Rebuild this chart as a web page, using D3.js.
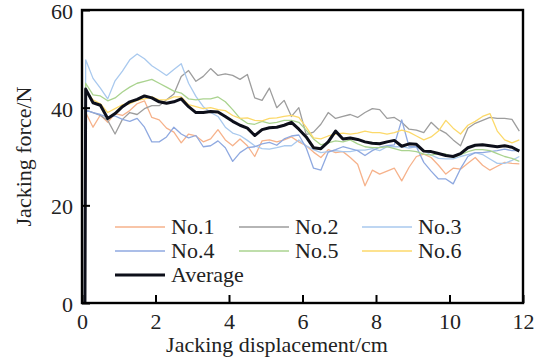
<!DOCTYPE html>
<html>
<head>
<meta charset="utf-8">
<script src="https://cdn.jsdelivr.net/npm/d3@7"></script>
<style>
  html, body { margin: 0; padding: 0; background: #fff; }
  svg { display: block; }
</style>
</head>
<body>
<svg id="chart" width="547" height="358"></svg>
<script>
// Jacking displacement (cm) sampled along each test
const displacement = [
  0.1, 0.3, 0.5, 0.7, 0.9, 1.1, 1.3, 1.5, 1.7, 1.9,
  2.1, 2.3, 2.5, 2.7, 2.9, 3.1, 3.3, 3.5, 3.7, 3.9,
  4.1, 4.3, 4.5, 4.7, 4.9, 5.1, 5.3, 5.5, 5.7, 5.9,
  6.1, 6.3, 6.5, 6.7, 6.9, 7.1, 7.3, 7.5, 7.7, 7.9,
  8.1, 8.3, 8.5, 8.7, 8.9, 9.1, 9.3, 9.5, 9.7, 9.9,
  10.1, 10.3, 10.5, 10.7, 10.9, 11.1, 11.3, 11.5, 11.7, 11.9
];
// loading starts from zero force at this displacement
const startX = 0.08;
const startForce = 0;

// Jacking force (N) for each test
const no1 = [39.0,36.0,38.5,37.0,38.8,38.4,39.4,40.8,41.4,38.0, 37.5,35.8,35.0,32.8,34.6,34.2,33.0,33.6,35.5,33.4,
  32.2,33.6,32.2,30.0,33.2,33.4,33.0,33.4,34.0,33.0, 32.2,30.9,29.8,31.4,30.8,31.0,29.8,28.4,24.0,27.2,
  26.4,27.0,27.6,25.0,27.8,30.0,30.5,29.8,28.2,26.4, 27.6,27.4,28.6,29.8,28.2,27.2,28.0,28.8,28.6,28.5];
const no2 = [39.5,39.0,38.4,37.4,34.6,37.6,39.0,38.6,39.8,40.4, 40.4,41.6,42.8,46.4,47.6,45.4,46.4,48.0,46.6,46.9,
  46.6,45.8,46.8,42.0,41.5,44.0,40.0,41.5,38.2,40.0, 34.5,35.0,36.6,39.0,37.8,38.2,38.6,38.0,39.0,39.8,
  39.6,37.8,38.0,37.0,35.6,35.4,34.9,37.0,35.6,34.8, 33.4,32.2,35.8,36.8,37.4,38.0,37.8,37.8,37.6,35.2];
const no3 = [49.8,46.0,44.0,41.8,45.5,47.5,49.8,51.0,50.0,48.6, 47.6,46.6,47.8,49.0,45.0,42.3,40.2,39.0,38.2,36.0,
  34.8,34.3,33.3,32.2,31.6,31.5,31.8,32.2,32.2,33.4, 32.2,31.4,30.8,31.0,31.2,31.0,31.0,31.3,31.3,31.6,
  31.2,32.0,32.0,32.0,31.7,32.0,31.2,30.3,29.6,29.5, 29.5,30.0,30.4,30.8,30.4,29.5,28.6,28.6,29.2,30.0];
const no4 = [39.5,39.0,38.6,38.0,38.3,37.6,37.2,37.8,36.0,33.0, 33.0,34.0,36.0,34.6,33.8,34.3,32.0,32.2,33.2,31.8,
  29.0,30.8,31.8,32.0,32.6,32.9,32.3,33.6,34.2,34.4, 31.8,27.6,27.2,30.9,31.4,32.0,31.6,31.2,30.2,31.2,
  31.9,32.2,32.4,37.5,32.0,32.0,28.8,27.0,25.4,25.4, 24.4,27.5,30.0,30.8,30.8,31.0,31.2,31.5,31.2,31.2];
const no5 = [45.0,42.6,42.4,41.4,42.0,43.2,44.2,45.0,45.4,45.8, 45.0,44.2,43.4,43.0,41.8,41.6,41.8,41.8,42.2,41.2,
  39.6,37.8,36.8,36.6,37.2,36.8,37.0,37.4,37.4,37.0, 35.4,33.6,32.4,32.8,33.2,33.0,33.4,32.6,32.0,31.8,
  31.8,32.0,31.6,31.2,31.2,31.0,30.5,30.3,30.6,30.5, 29.8,30.4,31.0,31.4,31.4,31.2,30.6,30.0,29.6,29.0];
const no6 = [43.6,41.6,40.8,39.0,39.8,40.6,40.8,41.5,41.8,42.2, 41.6,41.6,42.2,42.2,40.6,40.2,39.8,40.0,39.6,39.4,
  38.4,37.8,37.9,37.4,37.3,37.8,37.9,38.2,38.4,38.0, 36.0,33.8,33.6,34.2,34.6,34.8,34.6,34.8,35.2,34.9,
  34.9,34.6,34.9,35.4,35.0,34.2,33.4,34.0,35.2,37.4, 35.8,34.6,36.4,37.2,38.2,38.8,35.2,33.4,32.8,33.4];
const average = [43.8,41.0,40.5,37.8,38.8,40.2,41.2,41.7,42.4,42.0, 41.2,40.9,41.2,41.8,40.2,39.0,39.0,39.2,39.1,38.2,
  37.2,36.4,35.8,34.3,35.5,35.9,36.0,36.4,37.0,35.6, 34.0,31.8,31.6,33.0,35.2,33.6,33.8,33.5,33.0,32.7,
  32.6,33.0,33.3,32.1,32.6,32.5,31.1,31.0,30.6,30.2, 30.0,30.6,31.8,32.3,32.4,32.2,32.0,32.2,31.9,31.1];

const seriesNames = ["No.1", "No.2", "No.3", "No.4", "No.5", "No.6", "Average"];
const seriesValues = [no1, no2, no3, no4, no5, no6, average];
const seriesColors = ["#f6b28b", "#9d9d9d", "#a9c9ee", "#8fa9e0", "#aad38f", "#fcd96a", "#0d0f1a"];
const seriesWidths = [1.3, 1.3, 1.3, 1.3, 1.3, 1.3, 3];

const xTicks = [0, 2, 4, 6, 8, 10, 12];
const yTicks = [0, 20, 40, 60];

const FONT = "'Liberation Serif', 'DejaVu Serif', 'Times New Roman', Times, serif";

const svg = d3.select("#chart");
const margin = { left: 82, top: 10, right: 24, bottom: 55 };
const W = 547, H = 358;
const x0 = margin.left, x1 = W - margin.right;
const y0 = margin.top, y1 = H - margin.bottom;

const x = d3.scaleLinear().domain([0, 12]).range([x0, x1]);
const y = d3.scaleLinear().domain([0, 60]).range([y1, y0]);

// data lines
const line = d3.line().x(d => x(d[0])).y(d => y(d[1]));
svg.append("clipPath").attr("id", "plotClip")
  .append("rect").attr("x", x0).attr("y", y0).attr("width", x1 - x0).attr("height", y1 - y0);
const lines = svg.append("g").attr("clip-path", "url(#plotClip)");

seriesValues.forEach((vals, i) => {
  const pts = [[startX, startForce]].concat(displacement.map((d, j) => [d, vals[j]]));
  lines.append("path")
    .datum(pts)
    .attr("fill", "none")
    .attr("stroke", seriesColors[i])
    .attr("stroke-width", seriesWidths[i])
    .attr("stroke-linejoin", "round")
    .attr("d", line);
});

// axes with inward ticks
const xAxis = svg.append("g").attr("transform", `translate(0,${y1})`)
  .call(d3.axisBottom(x).tickValues(xTicks).tickSize(-8).tickFormat(d3.format("d")));
xAxis.attr("font-family", null).attr("font-size", null);
xAxis.select(".domain").remove();
xAxis.selectAll(".tick line").attr("stroke", "#000").attr("stroke-width", 2);
xAxis.selectAll(".tick text").attr("y", 26).attr("dy", 0)
  .style("font-family", FONT).style("font-size", "22px").attr("fill", "#222");

const yAxis = svg.append("g").attr("transform", `translate(${x0},0)`)
  .call(d3.axisLeft(y).tickValues(yTicks).tickSize(-8).tickFormat(d3.format("d")));
yAxis.attr("font-family", null).attr("font-size", null);
yAxis.select(".domain").remove();
yAxis.selectAll(".tick line").attr("stroke", "#000").attr("stroke-width", 2);
yAxis.selectAll(".tick text").attr("x", -9).attr("dy", "0.38em")
  .style("font-family", FONT).style("font-size", "22px").attr("fill", "#222");

// frame
svg.append("rect")
  .attr("x", x0).attr("y", y0).attr("width", x1 - x0).attr("height", y1 - y0)
  .attr("fill", "none").attr("stroke", "#000").attr("stroke-width", 2.4);

// axis titles
svg.append("text")
  .attr("x", 277).attr("y", 352)
  .attr("text-anchor", "middle")
  .style("font-family", FONT).style("font-size", "22px").attr("fill", "#222")
  .text("Jacking displacement/cm");

svg.append("text")
  .attr("transform", `translate(31,${(y0 + y1) / 2}) rotate(-90)`)
  .attr("text-anchor", "middle")
  .style("font-family", FONT).style("font-size", "22px").attr("fill", "#222")
  .text("Jacking force/N");

// legend
const legendCols = [115, 239, 362];
const legendRows = [227, 251, 275];
const legend = svg.append("g");
seriesNames.forEach((name, i) => {
  const cx = legendCols[i % 3];
  const cy = legendRows[Math.floor(i / 3)];
  legend.append("line")
    .attr("x1", cx).attr("x2", cx + 50)
    .attr("y1", cy).attr("y2", cy)
    .attr("stroke", seriesColors[i])
    .attr("stroke-width", i === 6 ? 3 : 1.5);
  legend.append("text")
    .attr("x", cx + 56).attr("y", cy)
    .attr("dy", "0.33em")
    .style("font-family", FONT).style("font-size", "22px").attr("fill", "#222")
    .text(name);
});
</script>
</body>
</html>
